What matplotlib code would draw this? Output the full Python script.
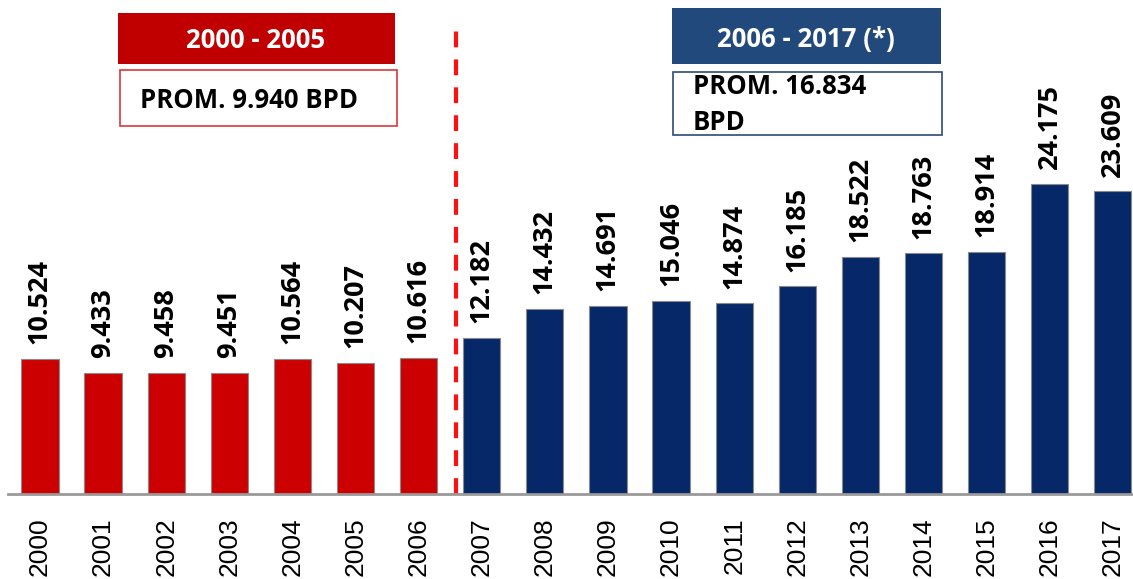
import matplotlib.pyplot as plt
from matplotlib.patches import Rectangle

years = [str(y) for y in range(2000, 2018)]
valores = [10524, 9433, 9458, 9451, 10564, 10207, 10616, 12182, 14432,
           14691, 15046, 14874, 16185, 18522, 18763, 18914, 24175, 23609]
etiquetas = ['10.524', '9.433', '9.458', '9.451', '10.564', '10.207', '10.616',
             '12.182', '14.432', '14.691', '15.046', '14.874', '16.185',
             '18.522', '18.763', '18.914', '24.175', '23.609']
rojo = '#CC0000'
azul = '#062868'
colores = [rojo] * 7 + [azul] * 11
fuente = ['Open Sans', 'DejaVu Sans']

fig = plt.figure(figsize=(11.33, 5.79), dpi=100)
ax = fig.add_axes([0.007, 0.1468, 0.993, 0.8532])

x = range(len(years))
ax.bar(x, valores, width=0.59, color=colores, edgecolor='#8a8a8a', linewidth=0.8)

for i, v in enumerate(valores):
    ax.text(i, v + 1150, etiquetas[i], rotation=90, ha='center', va='bottom',
            fontsize=19.5, fontweight='bold', family=fuente)

ax.set_xlim(-0.507, 17.32)
ax.set_ylim(0, 38530)
ax.set_xticks(list(x))
ax.set_xticklabels(years, rotation=90, fontsize=19, family='Liberation Sans')
ax.tick_params(axis='x', length=0, pad=17)
ax.set_yticks([])
for s in ['top', 'right', 'left']:
    ax.spines[s].set_visible(False)
ax.spines['bottom'].set_color('#999999')
ax.spines['bottom'].set_linewidth(2)

# linea divisoria
ax.plot([6.6, 6.6], [0, 36400], color='#FF1010', linestyle=(0, (3.8, 2.9)), linewidth=3)

# cajas de encabezado (coordenadas de figura en pixeles)
W, H = 1133, 579

def caja(x0, y0, x1, y1, fc, ec, lw):
    fig.patches.append(Rectangle((x0 / W, 1 - y1 / H), (x1 - x0) / W, (y1 - y0) / H,
                                 transform=fig.transFigure, facecolor=fc,
                                 edgecolor=ec, linewidth=lw))

caja(118, 13, 395, 64, '#C00000', '#C00000', 0)
caja(120, 70, 397, 126, 'white', '#D9383A', 1.2)
caja(672, 8, 941, 64, '#22497C', '#22497C', 0)
caja(673, 72, 942, 135, 'white', '#2E4A7A', 1.2)

fig.text(256 / W, 1 - 40 / H, '2000 - 2005', color='white', fontsize=18.5,
         fontweight='bold', family=fuente, ha='center', va='center')
fig.text(140 / W, 1 - 100 / H, 'PROM. 9.940 BPD', color='black', fontsize=18.5,
         fontweight='bold', family=fuente, ha='left', va='center')
fig.text(806 / W, 1 - 39 / H, '2006 - 2017 (*)', color='white', fontsize=18.5,
         fontweight='bold', family=fuente, ha='center', va='center')
fig.text(693 / W, 1 - 87 / H, 'PROM. 16.834', color='black', fontsize=18.5,
         fontweight='bold', family=fuente, ha='left', va='center')
fig.text(693 / W, 1 - 122 / H, 'BPD', color='black', fontsize=18.5,
         fontweight='bold', family=fuente, ha='left', va='center')

fig.savefig('out.png', dpi=100)
